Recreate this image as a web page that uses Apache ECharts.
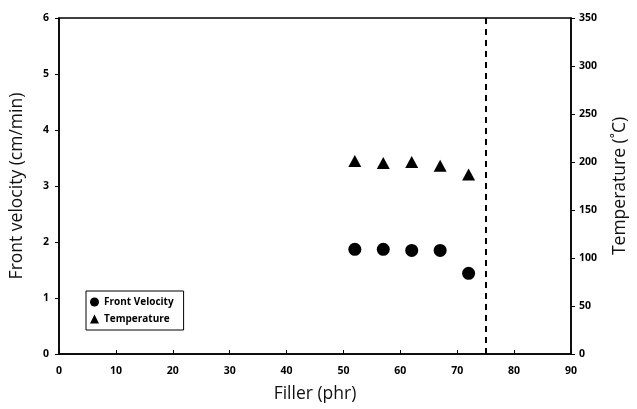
<!DOCTYPE html>
<html>
<head>
    <meta charset="utf-8">
    <title>Front velocity vs filler</title>
    <script src="https://cdn.jsdelivr.net/npm/echarts@6/dist/echarts.min.js"></script>
</head>
<body style="margin:0">
    <div id="main" style="width: 637px;height:409px;"></div>
    <script type="text/javascript">
        var myChart = echarts.init(document.getElementById('main'));

        // data
        var filler = [52, 57, 62, 67, 72];
        var frontVelocity = [1.87, 1.87, 1.85, 1.85, 1.44];
        var temperature = [201, 199, 200, 196, 187];
        var cutoffFiller = 75;

        function pairs(xs, ys) {
            return xs.map(function (x, i) { return [x, ys[i]]; });
        }

        var tickFont = {
            color: '#000',
            fontWeight: 'bold',
            fontFamily: 'Open Sans',
            fontSize: 10.5
        };
        var nameFont = {
            color: '#111',
            fontFamily: 'Open Sans',
            fontSize: 17.5
        };
        var axisLine = { show: true, lineStyle: { color: '#000', width: 1.5 } };

        var option = {
            animation: false,
            grid: {
                left: 55, right: 66, top: 18, bottom: 55,
                show: true, borderColor: '#000', borderWidth: 1.5
            },
            legend: {
                orient: 'vertical',
                left: 86,
                top: 291,
                itemWidth: 9,
                itemHeight: 9,
                itemGap: 7,
                padding: [6, 10, 6, 4],
                borderColor: '#000',
                borderWidth: 1,
                textStyle: { color: '#000', fontWeight: 'bold', fontFamily: 'Open Sans', fontSize: 10 },
                data: [
                    { name: 'Front Velocity', icon: 'circle' },
                    { name: 'Temperature', icon: 'triangle' }
                ]
            },
            xAxis: {
                type: 'value',
                min: 0,
                max: 90,
                interval: 10,
                name: 'Filler (phr)',
                nameLocation: 'middle',
                nameGap: 31,
                nameTextStyle: nameFont,
                axisLine: axisLine,
                axisTick: { show: true, inside: true, length: 4, lineStyle: { color: '#000' } },
                axisLabel: Object.assign({ margin: 12 }, tickFont),
                splitLine: { show: false }
            },
            yAxis: [{
                type: 'value',
                min: 0,
                max: 6,
                interval: 1,
                name: 'Front velocity (cm/min)',
                nameLocation: 'middle',
                nameGap: 33,
                nameTextStyle: nameFont,
                axisLine: axisLine,
                axisTick: { show: true, length: 4, lineStyle: { color: '#000' } },
                axisLabel: Object.assign({ margin: 10 }, tickFont),
                splitLine: { show: false }
            }, {
                type: 'value',
                min: 0,
                max: 350,
                interval: 50,
                position: 'right',
                name: 'Temperature (\u02DAC)',
                nameLocation: 'middle',
                nameGap: 40,
                nameRotate: 90,
                nameTextStyle: nameFont,
                axisLine: axisLine,
                axisTick: { show: true, length: 4, lineStyle: { color: '#000' } },
                axisLabel: Object.assign({ margin: 8 }, tickFont),
                splitLine: { show: false }
            }],
            series: [{
                name: 'Front Velocity',
                type: 'scatter',
                symbol: 'circle',
                symbolSize: 13,
                itemStyle: { color: '#000', opacity: 1 },
                data: pairs(filler, frontVelocity),
                markLine: {
                    silent: true,
                    symbol: 'none',
                    label: { show: false },
                    lineStyle: { color: '#000', type: [6, 5], width: 2, opacity: 1 },
                    data: [{ xAxis: cutoffFiller }]
                }
            }, {
                name: 'Temperature',
                type: 'scatter',
                yAxisIndex: 1,
                symbol: 'triangle',
                symbolSize: [13, 12],
                itemStyle: { color: '#000', opacity: 1 },
                data: pairs(filler, temperature)
            }]
        };

        myChart.setOption(option);
    </script>
</body>
</html>
